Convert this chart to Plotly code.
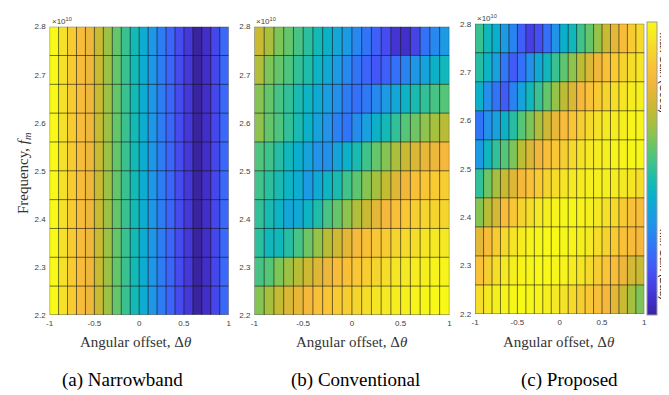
import plotly.graph_objects as go

# ---------------- data ----------------
angle_edges = [-1.0, -0.9, -0.8, -0.7, -0.6, -0.5, -0.4, -0.3, -0.2, -0.1, 0.0,
               0.1, 0.2, 0.3, 0.4, 0.5, 0.6, 0.7, 0.8, 0.9, 1.0]
freq_edges = [2.20e10, 2.26e10, 2.32e10, 2.38e10, 2.44e10, 2.50e10,
              2.56e10, 2.62e10, 2.68e10, 2.74e10, 2.80e10]
x_ticks = [-1, -0.5, 0, 0.5, 1]
x_ticktext = ["-1", "-0.5", "0", "0.5", "1"]
y_ticks = [2.2e10, 2.3e10, 2.4e10, 2.5e10, 2.6e10, 2.7e10, 2.8e10]
y_ticktext = ["2.2", "2.3", "2.4", "2.5", "2.6", "2.7", "2.8"]

# normalised gain (1 = max / good, 0 = min / bad)
# (a) narrowband: identical for every frequency row
narrowband_cols = [1.00, 0.93, 0.87, 0.82, 0.78, 0.71, 0.64, 0.57, 0.51, 0.45,
                   0.39, 0.32, 0.25, 0.19, 0.13, 0.08, 0.00, 0.05, 0.12, 0.20]

# (b) conventional, rows listed top (2.8e10) to bottom (2.2e10)
conventional_rows = [
    [0.71, 0.66, 0.60, 0.57, 0.53, 0.49, 0.45, 0.41, 0.37, 0.33, 0.28, 0.23, 0.18, 0.13, 0.07, 0.05, 0.11, 0.22, 0.28, 0.33],
    [0.67, 0.60, 0.57, 0.54, 0.50, 0.47, 0.42, 0.38, 0.33, 0.28, 0.23, 0.19, 0.16, 0.18, 0.22, 0.27, 0.32, 0.36, 0.41, 0.44],
    [0.61, 0.57, 0.53, 0.50, 0.46, 0.42, 0.38, 0.34, 0.30, 0.25, 0.22, 0.24, 0.28, 0.33, 0.37, 0.42, 0.46, 0.50, 0.53, 0.55],
    [0.62, 0.57, 0.54, 0.50, 0.46, 0.41, 0.36, 0.31, 0.26, 0.23, 0.29, 0.35, 0.41, 0.45, 0.50, 0.55, 0.58, 0.62, 0.65, 0.68],
    [0.54, 0.52, 0.48, 0.44, 0.40, 0.36, 0.31, 0.30, 0.36, 0.41, 0.46, 0.52, 0.57, 0.61, 0.66, 0.71, 0.74, 0.77, 0.78, 0.80],
    [0.52, 0.49, 0.46, 0.42, 0.39, 0.33, 0.38, 0.42, 0.46, 0.52, 0.56, 0.61, 0.65, 0.70, 0.75, 0.79, 0.83, 0.85, 0.87, 0.88],
    [0.50, 0.46, 0.42, 0.37, 0.38, 0.42, 0.47, 0.53, 0.57, 0.62, 0.67, 0.71, 0.76, 0.80, 0.83, 0.86, 0.88, 0.90, 0.90, 0.90],
    [0.49, 0.44, 0.44, 0.48, 0.53, 0.58, 0.63, 0.68, 0.72, 0.76, 0.81, 0.83, 0.86, 0.87, 0.90, 0.91, 0.92, 0.94, 0.95, 0.95],
    [0.53, 0.55, 0.60, 0.64, 0.68, 0.72, 0.75, 0.78, 0.82, 0.83, 0.86, 0.88, 0.90, 0.92, 0.94, 0.95, 0.96, 0.97, 0.98, 0.98],
    [0.61, 0.65, 0.70, 0.74, 0.77, 0.80, 0.83, 0.85, 0.87, 0.88, 0.90, 0.92, 0.94, 0.95, 0.96, 0.97, 0.98, 0.99, 1.00, 1.00],
]

# (c) proposed, rows listed top (2.8e10) to bottom (2.2e10)
proposed_rows = [
    [0.51, 0.44, 0.40, 0.33, 0.27, 0.18, 0.10, 0.14, 0.22, 0.31, 0.40, 0.44, 0.52, 0.57, 0.63, 0.71, 0.76, 0.82, 0.87, 0.91],
    [0.48, 0.42, 0.35, 0.24, 0.17, 0.22, 0.30, 0.38, 0.44, 0.51, 0.56, 0.62, 0.69, 0.74, 0.79, 0.84, 0.87, 0.90, 0.92, 0.94],
    [0.41, 0.30, 0.23, 0.17, 0.27, 0.36, 0.44, 0.51, 0.57, 0.63, 0.69, 0.74, 0.80, 0.84, 0.87, 0.90, 0.92, 0.94, 0.96, 0.97],
    [0.23, 0.30, 0.35, 0.41, 0.48, 0.55, 0.60, 0.66, 0.72, 0.77, 0.82, 0.85, 0.88, 0.91, 0.93, 0.95, 0.96, 0.97, 0.98, 0.98],
    [0.33, 0.43, 0.50, 0.55, 0.60, 0.69, 0.74, 0.79, 0.83, 0.86, 0.88, 0.91, 0.93, 0.95, 0.96, 0.97, 0.98, 0.98, 0.99, 0.99],
    [0.50, 0.58, 0.65, 0.71, 0.75, 0.80, 0.84, 0.87, 0.90, 0.92, 0.94, 0.95, 0.96, 0.97, 0.97, 0.97, 0.96, 0.95, 0.94, 0.92],
    [0.61, 0.68, 0.73, 0.82, 0.86, 0.90, 0.92, 0.95, 0.97, 0.98, 0.99, 0.99, 0.98, 0.97, 0.95, 0.93, 0.91, 0.87, 0.84, 0.82],
    [0.76, 0.82, 0.87, 0.91, 0.94, 0.96, 0.98, 0.99, 1.00, 1.00, 0.99, 0.98, 0.97, 0.95, 0.92, 0.90, 0.87, 0.84, 0.82, 0.80],
    [0.84, 0.88, 0.92, 0.95, 0.97, 0.98, 0.99, 1.00, 1.00, 0.99, 0.98, 0.96, 0.94, 0.91, 0.88, 0.85, 0.82, 0.78, 0.73, 0.71],
    [0.92, 0.95, 0.97, 0.98, 0.99, 1.00, 0.99, 0.98, 0.97, 0.95, 0.93, 0.91, 0.88, 0.86, 0.83, 0.80, 0.76, 0.71, 0.65, 0.60],
]

panel_captions = ["(a) Narrowband", "(b) Conventional", "(c) Proposed"]
colorbar_labels = ["Max Gain (Good)", "Min Gain (Bad)"]

# ---------------- style ----------------
parula = [
    [0.00, "rgb(58,36,160)"], [0.05, "rgb(66,46,200)"], [0.10, "rgb(70,63,228)"],
    [0.15, "rgb(68,83,244)"], [0.20, "rgb(58,104,250)"], [0.25, "rgb(45,124,244)"],
    [0.30, "rgb(35,144,236)"], [0.35, "rgb(25,160,222)"], [0.40, "rgb(10,175,205)"],
    [0.45, "rgb(20,185,182)"], [0.50, "rgb(50,192,152)"], [0.55, "rgb(85,197,120)"],
    [0.60, "rgb(125,197,88)"], [0.65, "rgb(165,192,63)"], [0.70, "rgb(195,187,50)"],
    [0.75, "rgb(222,183,55)"], [0.80, "rgb(245,183,60)"], [0.85, "rgb(250,196,55)"],
    [0.90, "rgb(245,213,45)"], [0.95, "rgb(245,233,35)"], [1.00, "rgb(248,249,22)"],
]

W, H = 669, 395
# pixel boxes of the three axes: (left, right, top, bottom)
boxes = [(38, 219, 15, 310), (245, 442, 15, 310), (468, 639, 12, 309)]

def px_x(p):
    return p / W

def px_y(p):
    return 1 - p / H

z_panels = [
    [list(narrowband_cols) for _ in range(len(freq_edges) - 1)],
    conventional_rows[::-1],
    proposed_rows[::-1],
]

fig = go.Figure()
layout_axes = {}
tick_font = dict(family="Liberation Sans, Arial, sans-serif", size=8, color="#404040")

for i, (z, box) in enumerate(zip(z_panels, boxes)):
    n = "" if i == 0 else str(i + 1)
    xa, ya = "x" + n, "y" + n
    last = i == 2
    fig.add_trace(go.Heatmap(
        x=angle_edges, y=freq_edges, z=z, xaxis=xa, yaxis=ya,
        colorscale=parula, zmin=0, zmax=1, showscale=last,
        colorbar=dict(
            x=px_x(642), xanchor="left", xpad=0, ypad=0, thickness=10, thicknessmode="pixels",
            y=px_y(160), yanchor="middle", len=300 / H, lenmode="fraction",
            showticklabels=False, ticks="", outlinewidth=1, outlinecolor="#9a9a9a",
        ) if last else None,
        hoverinfo="skip",
    ))
    # cell edge lines
    gx, gy = [], []
    for xe in angle_edges:
        gx += [xe, xe, None]
        gy += [freq_edges[0], freq_edges[-1], None]
    for ye in freq_edges:
        gx += [angle_edges[0], angle_edges[-1], None]
        gy += [ye, ye, None]
    fig.add_trace(go.Scatter(
        x=gx, y=gy, xaxis=xa, yaxis=ya, mode="lines",
        line=dict(color="rgba(20,20,20,0.6)", width=1),
        hoverinfo="skip", showlegend=False,
    ))
    l, r, t, b = box
    layout_axes["xaxis" + n] = dict(
        domain=[px_x(l), px_x(r)], anchor=ya, range=[angle_edges[0], angle_edges[-1]],
        tickvals=x_ticks, ticktext=x_ticktext, tickfont=tick_font,
        showgrid=False, zeroline=False, ticks="", ticklen=0, ticklabelstandoff=2,
    )
    layout_axes["yaxis" + n] = dict(
        domain=[px_y(b), px_y(t)], anchor=xa, range=[freq_edges[0], freq_edges[-1]],
        tickvals=y_ticks, ticktext=y_ticktext, tickfont=tick_font,
        showgrid=False, zeroline=False, ticks="", ticklen=0, ticklabelstandoff=3,
    )

serif = "Liberation Serif, Times New Roman, serif"
annotations = []
title_centers = [125, 344, 553]
caption_centers = [112, 347, 563]
for i, box in enumerate(boxes):
    l, r, t, b = box
    annotations.append(dict(
        x=px_x(l), y=px_y(t), xref="paper", yref="paper", xanchor="left", yanchor="bottom",
        text="×10<sup>10</sup>", showarrow=False, font=dict(family="Liberation Sans, Arial", size=8, color="#404040"),
        yshift=-1,
    ))
    annotations.append(dict(
        x=px_x(title_centers[i]), y=px_y(338), xref="paper", yref="paper",
        xanchor="center", yanchor="middle", text="Angular offset, Δ<i>θ</i>",
        showarrow=False, font=dict(family=serif, size=15, color="#333333"),
    ))
    annotations.append(dict(
        x=px_x(caption_centers[i]), y=px_y(377), xref="paper", yref="paper",
        xanchor="center", yanchor="middle", text=panel_captions[i],
        showarrow=False, font=dict(family=serif, size=19, color="#000000"),
    ))

annotations.append(dict(
    x=px_x(12), y=px_y(165), xref="paper", yref="paper", xanchor="center", yanchor="middle",
    text="Frequency, <i>f<sub>m</sub></i>", textangle=-90, showarrow=False,
    font=dict(family=serif, size=15, color="#333333"),
))
for label, yc in zip(colorbar_labels, [62, 258]):
    annotations.append(dict(
        x=px_x(659), y=px_y(yc), xref="paper", yref="paper", xanchor="center", yanchor="middle",
        text=label, textangle=90, showarrow=False, borderpad=0,
        font=dict(family="Liberation Sans, Arial", size=10.5, color="#111111"),
    ))

fig.update_layout(
    width=W, height=H, margin=dict(l=0, r=0, t=0, b=0),
    paper_bgcolor="white", plot_bgcolor="white", showlegend=False,
    annotations=annotations, **layout_axes,
)

fig.write_html("out.html")
